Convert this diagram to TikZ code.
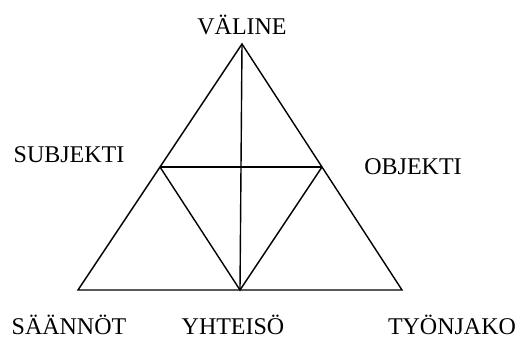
\documentclass[tikz,border=0pt]{standalone}
\usepackage{fontspec}
\setmainfont{Liberation Serif}
\usetikzlibrary{calc}

\tikzset{
    lbl/.style = {font=\fontsize{24}{28}\selectfont, inner sep=0pt},
    edge/.style = {line width=1.4pt, line join=miter}
}

\begin{document}
\begin{tikzpicture}[x=1pt, y=-1pt]
    \useasboundingbox (0,0) rectangle (531,340);
    \coordinate (A) at (242,44);
    \coordinate (L) at (78,290);
    \coordinate (R) at (402,290);
    \coordinate (LM) at ($(A)!0.5!(L)$);
    \coordinate (RM) at ($(A)!0.5!(R)$);
    \coordinate (BM) at (240,290);
    \draw[edge] (A) -- (L) -- (R) -- cycle;
    \draw[edge] (LM) -- (RM);
    \draw[edge] (A) -- (BM);
    \draw[edge] (LM) -- (BM) -- (RM);
    \node[lbl] (valine) at (242,25) {VÄLINE};
    \node[lbl] (subjekti) at (69,155) {SUBJEKTI};
    \node[lbl] (objekti) at (413,167) {OBJEKTI};
    \node[lbl] (saannot) at (69,325) {SÄÄNNÖT};
    \node[lbl] (yhteiso) at (233,325) {YHTEISÖ};
    \node[lbl] (tyonjako) at (452,325) {TYÖNJAKO};
\end{tikzpicture}
\end{document}
